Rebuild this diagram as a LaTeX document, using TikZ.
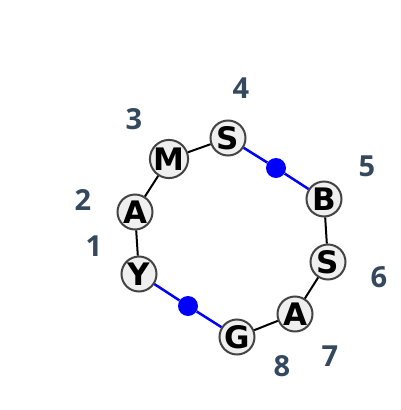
\documentclass[tikz,border=0pt]{standalone}
\usepackage{fontspec}
\setmainfont{DejaVu Sans}
\newfontfamily\numfont{Open Sans}
\definecolor{ringgray}{HTML}{444444}
\definecolor{resfill}{HTML}{EFEFEF}
\definecolor{numcol}{HTML}{34495E}
\begin{document}
\begin{tikzpicture}[x=1pt,y=-1pt]
        \tikzstyle{res}=[circle,draw=ringgray,fill=resfill,line width=2pt,minimum size=35pt,inner sep=0pt,font=\bfseries\fontsize{31}{31}\selectfont]
        \tikzstyle{num}=[text=numcol,font=\numfont\bfseries\fontsize{29}{29}\selectfont]
        \tikzstyle{link}=[draw,black,line width=2pt]
        \tikzstyle{bond}=[draw,blue,line width=2.5pt]
        \useasboundingbox (0,0) rectangle (400,410);
        % residues
        \node[res] (y1) at (139,274) {Y};
        \node[res] (a2) at (135,212) {A};
        \node[res] (m3) at (169,159) {M};
        \node[res] (s4) at (228,138) {S};
        \node[res] (b5) at (324,199) {B};
        \node[res] (s6) at (328,262) {S};
        \node[res] (a7) at (295,314) {A};
        \node[res] (g8) at (237,337) {G};
        % bridge dots
        \node[circle,fill=blue,minimum size=20pt,inner sep=0pt] (d1) at (276,168) {};
        \node[circle,fill=blue,minimum size=20pt,inner sep=0pt] (d2) at (188,306) {};
        % numbers
        \node[num] (n1) at (94,246) {1};
        \node[num] (n2) at (83,200) {2};
        \node[num] (n3) at (134,119) {3};
        \node[num] (n4) at (241,88) {4};
        \node[num] (n5) at (367,166) {5};
        \node[num] (n6) at (379,277) {6};
        \node[num] (n7) at (330,356) {7};
        \node[num] (n8) at (282,366) {8};
        % connectors
        \path[link] (y1) -- (a2);
        \path[link] (a2) -- (m3);
        \path[link] (m3) -- (s4);
        \path[bond] (s4) -- (d1) -- (b5);
        \path[link] (b5) -- (s6);
        \path[link] (s6) -- (a7);
        \path[link] (a7) -- (g8);
        \path[bond] (g8) -- (d2) -- (y1);
\end{tikzpicture}
\end{document}
